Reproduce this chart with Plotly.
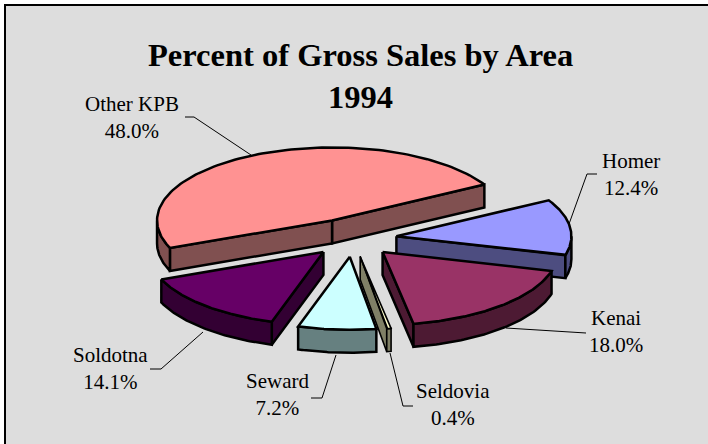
import numpy as np
import plotly.graph_objects as go

# ---- data (in order around the pie, clockwise) ----
areas = ["Other KPB", "Homer", "Kenai", "Seldovia", "Seward", "Soldotna"]
percents = [48.0, 12.4, 18.0, 0.4, 7.2, 14.1]
top_colors = ["#FF9292", "#9999FF", "#993366", "#FFFFCC", "#CCFFFF", "#660066"]
side_colors = ["#805050", "#4D4D80", "#4D1A33", "#808066", "#668080", "#330033"]
explode = [0.275, 0.25, 0.25, 0.25, 0.25, 0.25]
paint_order = ["Other KPB", "Homer", "Kenai", "Soldotna", "Seldovia", "Seward"]
title_lines = ["Percent of Gross Sales by Area", "1994"]

# ---- pie projection ----
CX, CY = 353.0, 238.5   # pie centre
RX, RY = 175.0, 73.0    # ellipse radii
DEPTH = 23.0            # extrusion height
START = 29.5            # degrees; Homer starts here running clockwise
LW = 2.5

total = sum(percents)
sweeps = [p / total * 360 for p in percents]
spans = {"Other KPB": (START, START + sweeps[0])}
ang = START
for name, s in zip(areas[1:], sweeps[1:]):
    spans[name] = (ang - s, ang)
    ang -= s


def pt(theta_deg, ox=0.0, oy=0.0):
    t = np.radians(theta_deg)
    return ox + RX * np.cos(t), oy - RY * np.sin(t)


fig = go.Figure()


def poly(xs, ys, color, lw=LW):
    xs, ys = list(xs), list(ys)
    fig.add_trace(go.Scatter(x=xs + [xs[0]], y=ys + [ys[0]], mode="lines", fill="toself",
                             fillcolor=color, line=dict(color="black", width=lw, shape="linear"),
                             hoverinfo="skip", showlegend=False))


for name in paint_order:
    i = areas.index(name)
    a0, a1 = spans[name]
    mid = np.radians((a0 + a1) / 2)
    ox = CX + RX * explode[i] * np.cos(mid)
    oy = CY - RY * explode[i] * np.sin(mid)
    top, side = top_colors[i], side_colors[i]
    lw = 1.6 if name == "Seldovia" else LW

    # radial faces that face the viewer
    for edge, normal in ((a0, a0 - 90), (a1, a1 + 90)):
        if np.sin(np.radians(normal)) < 0:
            ex, ey = pt(edge, ox, oy)
            poly([ox, ex, ex, ox], [oy, ey, ey + DEPTH, oy + DEPTH], side, lw)

    # outer wall (the part of the rim on the viewer's side)
    for lo, hi in ((a0, a1), (a0 - 360, a1 - 360)):
        w0, w1 = max(lo, -180.0), min(hi, 0.0)
        if w1 > w0:
            th = np.linspace(w0, w1, 60)
            xu, yu = pt(th, ox, oy)
            poly(np.r_[xu, xu[::-1]], np.r_[yu, (yu + DEPTH)[::-1]], side, lw)

    # top surface
    th = np.linspace(a0, a1, 120)
    xt, yt = pt(th, ox, oy)
    poly(np.r_[ox, xt], np.r_[oy, yt], top, lw)

# ---- leader lines ----
leaders = {
    "Other KPB": ([185, 194, 251], [117, 117, 155]),
    "Homer": ([597, 587, 569], [174, 174, 224]),
    "Kenai": ([586, 506], [333, 328]),
    "Seldovia": ([413, 403, 390], [406, 406, 353]),
    "Seward": ([311, 322, 336], [398, 398, 355]),
    "Soldotna": ([150, 161, 203], [369, 369, 332]),
}
for name in areas:
    xs, ys = leaders[name]
    fig.add_trace(go.Scatter(x=xs, y=ys, mode="lines", line=dict(color="black", width=1),
                             hoverinfo="skip", showlegend=False))

# ---- labels ----
label_pos = {
    "Other KPB": (132, 117), "Homer": (630.5, 174.5), "Kenai": (616, 331.5),
    "Seldovia": (453, 404.5), "Seward": (277, 394.5), "Soldotna": (110, 368.5),
}
FONT = "Liberation Serif"
annotations = []
for name, p in zip(areas, percents):
    x, y = label_pos[name]
    annotations.append(dict(x=x, y=y, xref="x", yref="y", showarrow=False, align="center",
                            text=f"{name}<br>{p:.1f}%", font=dict(family=FONT, size=21, color="black"),
                            xanchor="center", yanchor="middle"))
annotations.append(dict(x=360.5, y=75.5, xref="x", yref="y", showarrow=False, align="center",
                        text="<br>".join(f"<b>{t}</b>" for t in title_lines),
                        font=dict(family=FONT, size=32.5, color="black"),
                        xanchor="center", yanchor="middle"))

fig.update_layout(
    width=708, height=444, margin=dict(l=0, r=0, t=0, b=0, pad=0),
    paper_bgcolor="white", plot_bgcolor="white", showlegend=False,
    xaxis=dict(range=[0, 708], visible=False, fixedrange=True),
    yaxis=dict(range=[444, 0], visible=False, fixedrange=True),
    annotations=annotations,
    shapes=[dict(type="rect", xref="x", yref="y", x0=5, y0=5, x1=730, y1=470,
                 fillcolor="#DDDDDD", line=dict(color="black", width=2), layer="below")],
)
fig.write_html("out.html", config={"displayModeBar": False},
               post_script="document.body.style.margin='0';")
